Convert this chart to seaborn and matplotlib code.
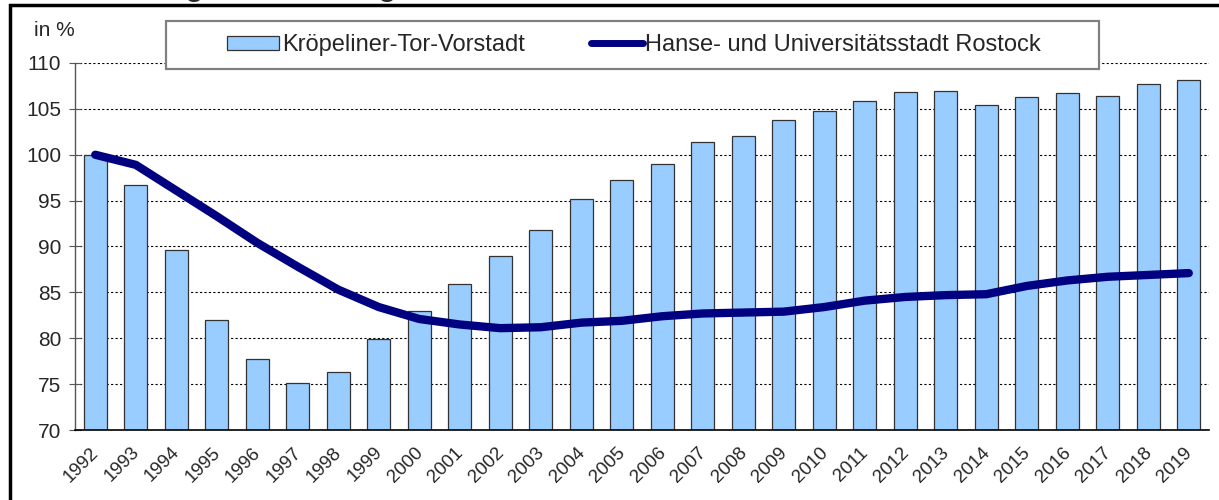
import numpy as np
import pandas as pd
import matplotlib
matplotlib.use("Agg")
import matplotlib.pyplot as plt
import matplotlib.transforms as mtransforms
from matplotlib.patches import Rectangle
from matplotlib.lines import Line2D
from matplotlib.patches import Patch
import seaborn as sns

# Daten (1992 = 100 %)
years = [str(y) for y in range(1992, 2020)]
kroepeliner = [100.0, 96.7, 89.6, 82.0, 77.7, 75.1, 76.3, 79.9, 83.0, 85.9,
               89.0, 91.8, 95.2, 97.3, 99.0, 101.4, 102.0, 103.8, 104.8, 105.9,
               106.8, 106.9, 105.4, 106.3, 106.7, 106.4, 107.7, 108.1]
rostock = [100.0, 98.9, 96.1, 93.3, 90.4, 87.8, 85.3, 83.4, 82.1, 81.5,
           81.1, 81.2, 81.7, 81.9, 82.4, 82.7, 82.8, 82.9, 83.4, 84.1,
           84.5, 84.7, 84.8, 85.7, 86.3, 86.7, 86.9, 87.1]
yticks = [70, 75, 80, 85, 90, 95, 100, 105, 110]
label_bars = "Kröpeliner-Tor-Vorstadt"
label_line = "Hanse- und Universitätsstadt Rostock"

BAR_COLOR = "#99CCFF"
LINE_COLOR = "#000080"


def main():
    sns.set_theme(style="white")
    plt.rcParams["font.family"] = ["Liberation Sans", "DejaVu Sans"]

    df = pd.DataFrame({"Jahr": years, "KTV": kroepeliner, "HRO": rostock})
    n = len(years)

    fig = plt.figure(figsize=(12.19, 5.0), dpi=100)
    ax = fig.add_axes([75 / 1219, 1 - 430 / 500, (1209 - 75) / 1219, (430 - 63) / 500])

    sns.barplot(data=df, x="Jahr", y="KTV", color=BAR_COLOR, edgecolor="#333333",
                linewidth=0.9, width=0.56, saturation=1, ax=ax, zorder=2)
    sns.lineplot(x=np.arange(n), y=df["HRO"], color=LINE_COLOR, linewidth=6,
                 solid_capstyle="round", ax=ax, zorder=3)

    ax.set_xlim(-0.5, n - 0.5)
    ax.set_ylim(70, 110)
    ax.set_yticks(yticks)
    ax.set_yticklabels([str(t) for t in yticks], fontsize=15)
    ax.set_xticks(np.arange(n))
    ax.set_xticklabels(years, rotation=45, ha="right", rotation_mode="anchor", fontsize=13.5)
    ax.set_xticks(np.arange(n + 1) - 0.5, minor=True)
    ax.tick_params(axis="x", which="major", length=0, pad=10)
    ax.tick_params(axis="x", which="minor", length=9, direction="inout", width=0.8, color="#555555")
    ax.tick_params(axis="y", which="major", length=8, direction="inout", width=0.8,
                   color="#555555", left=True, pad=6)
    # Jahreszahlen etwas nach links schieben
    shift = mtransforms.ScaledTranslation(-5 / 100, 0, fig.dpi_scale_trans)
    for lbl in ax.get_xticklabels():
        lbl.set_transform(lbl.get_transform() + shift)
    ax.set_xlabel("")
    ax.set_ylabel("")

    ax.yaxis.grid(True, linestyle=(0, (2, 2)), color="black", linewidth=0.8, zorder=0)
    ax.set_axisbelow(True)
    for side in ["top", "right"]:
        ax.spines[side].set_visible(False)
    ax.spines["left"].set_color("#555555")
    ax.spines["left"].set_linewidth(1.0)
    ax.spines["bottom"].set_color("black")
    ax.spines["bottom"].set_linewidth(1.2)

    # Legende mit eigenem Rahmen
    fig.patches.append(Rectangle((166 / 1219, 1 - 69 / 500), (1099 - 166) / 1219, 48 / 500,
                                 transform=fig.transFigure, facecolor="white",
                                 edgecolor="#808080", linewidth=1.6, zorder=5))
    handles = [Patch(facecolor=BAR_COLOR, edgecolor="#333333", linewidth=0.9),
               Line2D([0], [0], color=LINE_COLOR, linewidth=5)]
    fig.legend(handles, [label_bars, label_line], loc="center",
               bbox_to_anchor=(634 / 1219, 1 - 45 / 500), ncol=2, frameon=False,
               fontsize=17, handlelength=2.2, handleheight=0.55, handletextpad=0.1,
               columnspacing=2.8)

    fig.text(34 / 1219, 1 - 31 / 500, "in %", fontsize=15, va="center", ha="left")

    # Titel (oben abgeschnitten wie im Original)
    fig.text(19 / 1219, 1 + 5 / 500, "Bevölkerungsentwicklung", fontsize=22,
             fontweight="bold", va="baseline", ha="left")
    fig.text(410 / 1219, 1 + 5 / 500, "(Bevölkerung mit Hauptwohnung, 1992 = 100 %)",
             fontsize=15, va="baseline", ha="left")

    # Rahmen um die Grafik
    fig.patches.append(Rectangle((10 / 1219, -0.1), 1.1, 1.1 - 5 / 500,
                                 transform=fig.transFigure, fill=False,
                                 edgecolor="black", linewidth=2.5, zorder=6))

    fig.savefig("out.png", dpi=100)
    plt.close(fig)


if __name__ == "__main__":
    main()
